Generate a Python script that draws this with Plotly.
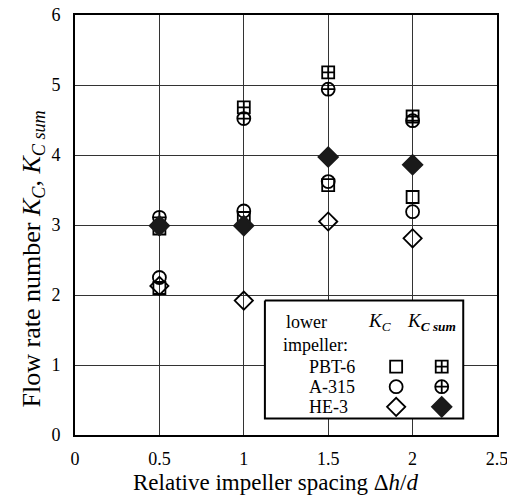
import plotly.graph_objects as go

# ---- data ----
spacing = [0.5, 1.0, 1.5, 2.0]
pbt6_kc = [2.10, 3.10, 3.57, 3.40]
pbt6_ksum = [2.95, 4.68, 5.18, 4.55]
a315_kc = [2.25, 3.20, 3.62, 3.19]
a315_ksum = [3.11, 4.52, 4.94, 4.49]
he3_kc = [2.13, 1.92, 3.05, 2.81]
he3_ksum = [2.99, 2.99, 3.97, 3.86]

x_ticks = [0, 0.5, 1, 1.5, 2, 2.5]
x_tick_labels = ["0", "0.5", "1", "1.5", "2", "2.5"]
y_ticks = [0, 1, 2, 3, 4, 5, 6]

legend_names = ["PBT-6", "A-315", "HE-3"]

FONT = "Liberation Serif, Times New Roman, serif"
BLACK = "#000000"

fig = go.Figure()

series = [
    (pbt6_kc, "square-open", 12, BLACK),
    (a315_kc, "circle-open", 13, BLACK),
    (he3_kc, "diamond-open", 14, BLACK),
    (pbt6_ksum, "square-cross-open", 12, BLACK),
    (a315_ksum, "circle-cross-open", 13, BLACK),
    (he3_ksum, "diamond", 15, "#1a1a1a"),
]
for ys, sym, size, col in series:
    fig.add_trace(go.Scatter(
        x=spacing, y=ys, mode="markers",
        marker=dict(symbol=sym, size=size, color=col,
                    line=dict(color=col, width=1.8)),
        showlegend=False, hoverinfo="skip", cliponaxis=False,
    ))

# ---- legend box on overlay axes (fractions of plot area) ----
box_x = [0.450, 0.920, 0.920, 0.450, 0.450]
box_y = [0.320, 0.320, 0.039, 0.039, 0.320]
fig.add_trace(go.Scatter(
    x=box_x, y=box_y, mode="lines", fill="toself", fillcolor="white",
    line=dict(color=BLACK, width=2), xaxis="x2", yaxis="y2",
    showlegend=False, hoverinfo="skip",
))
leg_y = [0.163, 0.115, 0.067]
col_kc = 0.761
col_sum = 0.869
leg_kc_sym = [("square-open", 12), ("circle-open", 13), ("diamond-open", 14)]
leg_sum_sym = [("square-cross-open", 12), ("circle-cross-open", 13), ("diamond", 15)]
for i in range(3):
    for cx, (sym, size) in ((col_kc, leg_kc_sym[i]), (col_sum, leg_sum_sym[i])):
        col = "#1a1a1a" if sym == "diamond" else BLACK
        fig.add_trace(go.Scatter(
            x=[cx], y=[leg_y[i]], mode="markers", xaxis="x2", yaxis="y2",
            marker=dict(symbol=sym, size=size, color=col,
                        line=dict(color=col, width=1.8)),
            showlegend=False, hoverinfo="skip",
        ))

ann = []
def add_text(txt, x, y, xanchor="left", size=18, angle=0):
    ann.append(dict(text=txt, x=x, y=y, xref="paper", yref="paper",
                    xanchor=xanchor, yanchor="middle", showarrow=False,
                    textangle=angle,
                    font=dict(family=FONT, size=size, color=BLACK)))

add_text("lower", 0.495, 0.268)
add_text("impeller:", 0.487, 0.214)
for i, nm in enumerate(legend_names):
    add_text(nm, 0.550, leg_y[i])
add_text("<i>K<sub>C</sub></i>", 0.722, 0.268, xanchor="center", size=19)
add_text("<i>K<sub><b>C sum</b></sub></i>", 0.845, 0.268, xanchor="center", size=19)

# axis titles
add_text("Relative impeller spacing Δ<i>h</i>/<i>d</i>", 0.474, -0.114,
         xanchor="center", size=23)
add_text("Flow rate number <i>K<sub>C</sub></i>, <i>K<sub>C sum</sub></i>",
         -0.0995, 0.418, xanchor="center", size=26, angle=-90)

fig.update_layout(
    width=507, height=495,
    margin=dict(l=75, r=10, t=15, b=60),
    paper_bgcolor="white", plot_bgcolor="rgba(0,0,0,0)",
    font=dict(family=FONT, size=16, color=BLACK),
    annotations=ann,
    xaxis=dict(
        range=[0, 2.5], tickvals=x_ticks, ticktext=x_tick_labels,
        showgrid=True, gridcolor="#333333", gridwidth=1,
        showline=True, linecolor=BLACK, linewidth=2, mirror=True,
        zeroline=False, ticks="", ticklabelstandoff=6, automargin=False,
        ticklabeloverflow="allow",
        tickfont=dict(family=FONT, size=18),
    ),
    yaxis=dict(
        range=[0, 6], tickvals=y_ticks,
        showgrid=True, gridcolor="#333333", gridwidth=1,
        showline=True, linecolor=BLACK, linewidth=2, mirror=True,
        zeroline=False, ticks="", ticklabelstandoff=9, automargin=False,
        ticklabeloverflow="allow",
        tickfont=dict(family=FONT, size=18),
    ),
    xaxis2=dict(range=[0, 1], overlaying="x", anchor="y2", visible=False,
                showgrid=False, zeroline=False),
    yaxis2=dict(range=[0, 1], overlaying="y", anchor="x2", visible=False,
                showgrid=False, zeroline=False),
)

fig.write_html("out.html",
               config={"displayModeBar": False},
               post_script="document.body.style.margin='0px';")
